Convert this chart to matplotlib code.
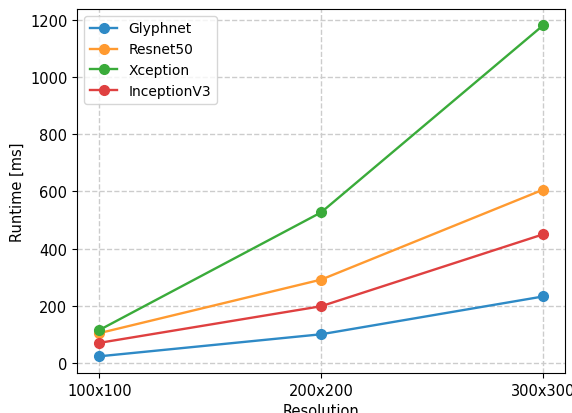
import numpy as np
import matplotlib.pyplot as plt

resolutions = ['100x100', '200x200', '300x300']
glyphnet = [24, 101, 233]
resnet50 = [105, 292, 606]
xception = [116, 527, 1180]
inception_v3 = [71, 199, 450]

plt.rcParams['font.size'] = 10.5

fig, ax = plt.subplots(figsize=(5.72, 4.14), dpi=100)
x = np.arange(len(resolutions))
style = dict(marker='o', linewidth=1.7, markersize=7)
ax.plot(x, glyphnet, color='#2e8ac6', label='Glyphnet', **style)
ax.plot(x, resnet50, color='#ff9a30', label='Resnet50', **style)
ax.plot(x, xception, color='#3aab3a', label='Xception', **style)
ax.plot(x, inception_v3, color='#df4040', label='InceptionV3', **style)
ax.set_xticks(x)
ax.set_xticklabels(resolutions)
ax.set_xlabel('Resolution')
ax.set_ylabel('Runtime [ms]')
ax.grid(True, linestyle='--', color='#cccccc', linewidth=1)
ax.legend(loc='upper left', fontsize=10)
fig.subplots_adjust(left=0.135, right=0.988, top=0.976, bottom=0.097)
fig.savefig('out.png')
